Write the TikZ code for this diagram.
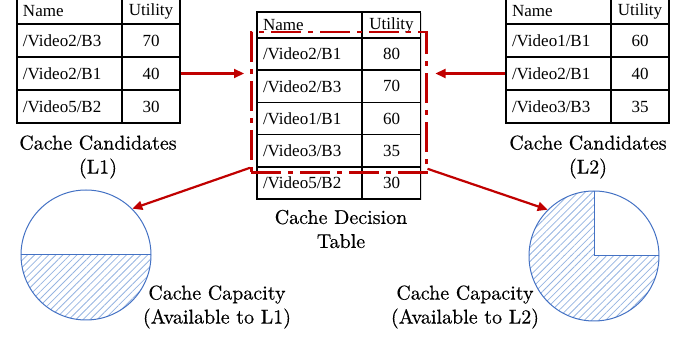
\documentclass[tikz,border=0pt]{standalone}
\usepackage{fontspec}
\newfontfamily\tabfont{Liberation Serif}
\newfontfamily\capfont{lmroman10-regular.otf}[FakeBold=0.4]
\usetikzlibrary{fit,arrows.meta,patterns.meta,shadows}
\definecolor{decred}{RGB}{192,0,0}
\definecolor{capblue}{RGB}{68,114,196}
\definecolor{hatchblue}{RGB}{150,180,225}
\tikzstyle{cell} = [draw=black, line width=1.5pt, fill=white, inner sep=0pt, font={\tabfont\fontsize{17}{20}\selectfont}, drop shadow={opacity=0.25,shadow xshift=1.2pt,shadow yshift=-1.2pt}]
\tikzstyle{namecell} = [cell, text width=93pt, inner xsep=6pt, align=left]
\tikzstyle{utilcell} = [cell, minimum width=58pt, align=center]
\tikzstyle{caption} = [align=center, font={\capfont\fontsize{20}{24}\selectfont}]
\tikzstyle{toss} = [draw=decred, line width=2.2pt, -{Triangle[length=10pt,width=9pt]}]
\tikzstyle{capacity} = [circle, draw=capblue, line width=1pt, minimum size=130pt, inner sep=0pt]
\tikzstyle{hatch} = [pattern={Lines[angle=45,distance=5pt,line width=0.8pt]}, pattern color=hatchblue]

\begin{document}
\begin{tikzpicture}[x=1pt,y=-1pt]
        \useasboundingbox (0,0) rectangle (697,339);
        % candidates of L1
        \node[namecell,minimum height=26pt](an0) at (69.5,11){Name};
        \node[utilcell,minimum height=26pt](au0) at (151,11){Utility};
        \foreach \nm/\ut [count=\i] in {{/Video2/B3}/70,{/Video2/B1}/40,{/Video5/B2}/30}{
          \node[namecell,minimum height=33pt](an\i) at (69.5,7.5+33*\i){\nm};
          \node[utilcell,minimum height=33pt](au\i) at (151,7.5+33*\i){\ut};
        }
        % decision table
        \node[namecell,minimum height=26pt](mn0) at (309.5,25){Name};
        \node[utilcell,minimum height=26pt](mu0) at (391.5,25){Utility};
        \foreach \nm/\ut [count=\i] in {{/Video2/B1}/80,{/Video2/B3}/70,{/Video1/B1}/60,{/Video3/B3}/35,{/Video5/B2}/30}{
          \node[namecell,minimum height=32.2pt](mn\i) at (309.5,21.9+32.2*\i){\nm};
          \node[utilcell,minimum height=32.2pt](mu\i) at (391.5,21.9+32.2*\i){\ut};
        }
        % candidates of L2
        \node[namecell,minimum height=26pt](bn0) at (558.5,11){Name};
        \node[utilcell,minimum height=26pt](bu0) at (640,11){Utility};
        \foreach \nm/\ut [count=\i] in {{/Video1/B1}/60,{/Video2/B1}/40,{/Video3/B3}/35}{
          \node[namecell,minimum height=33pt](bn\i) at (558.5,7.5+33*\i){\nm};
          \node[utilcell,minimum height=33pt](bu\i) at (640,7.5+33*\i){\ut};
        }
        \node[draw=decred,line width=2.5pt,dash pattern=on 30pt off 7pt on 5pt off 7pt,inner sep=5pt,fit=(mn1)(mu4)](pick){};
        \node[caption](cand1) at (98,157){Cache Candidates\\(L1)};
        \node[caption](decide) at (341,229){Cache Decision\\Table};
        \node[caption](cand2) at (588,157){Cache Candidates\\(L2)};
        % capacity pies
        \node[capacity,path picture={
            \fill[hatch] (path picture bounding box.west) rectangle (path picture bounding box.south east);
            \draw[capblue,line width=1pt] (path picture bounding box.west) -- (path picture bounding box.east);
          }](c1) at (86,255){};
        \node[capacity,path picture={
            \fill[hatch] (path picture bounding box.west) rectangle (path picture bounding box.south east);
            \fill[hatch] (path picture bounding box.north west) rectangle (path picture bounding box.center);
            \draw[capblue,line width=1pt] (path picture bounding box.north) -- (path picture bounding box.center) -- (path picture bounding box.east);
          }](c2) at (594,256){};
        \node[caption](cap1) at (217,307){Cache Capacity\\(Available to L1)};
        \node[caption](cap2) at (465,307){Cache Capacity\\(Available to L2)};
        \draw[toss,shorten >=6pt](au2.east)--(au2.east -| pick.west);
        \draw[toss,shorten >=8pt](bn2.west)--(bn2.west -| pick.east);
        \draw[toss]([yshift=6pt]pick.south west)--(c1.45);
        \draw[toss]([yshift=5pt]pick.south east)--(c2.135);
      \end{tikzpicture}
\end{document}
